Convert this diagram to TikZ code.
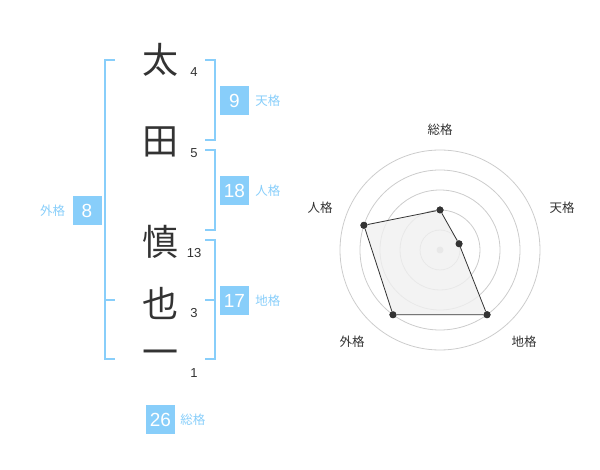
\documentclass[tikz,border=0pt]{standalone}
\usepackage{fontspec}
\setmainfont{Liberation Sans}
\newfontfamily\jp{Noto Sans CJK JP}
\usetikzlibrary{positioning,calc}
\definecolor{skyblue}{HTML}{88CEFA}
\definecolor{inkgray}{HTML}{333333}
\definecolor{ringgray}{HTML}{CCCCCC}
\definecolor{areagray}{HTML}{F0F0F0}
\tikzstyle{kanji} = [text=inkgray, font=\jp\fontsize{36}{36}\selectfont, inner sep=0pt]
\tikzstyle{strokes} = [text=inkgray, font=\fontsize{13}{13}\selectfont, inner sep=0pt]
\tikzstyle{score} = [rectangle, fill=skyblue, text=white, minimum width=29pt, minimum height=29pt, inner sep=0pt, font=\fontsize{19}{19}\selectfont]
\tikzstyle{kaku} = [text=skyblue, font=\jp\fontsize{12.5}{12.5}\selectfont, inner sep=0pt]
\tikzstyle{bracket} = [draw=skyblue, line width=2pt]
\tikzstyle{axislabel} = [text=inkgray, font=\jp\fontsize{12.5}{12.5}\selectfont, inner sep=0pt]
\tikzstyle{dot} = [circle, fill=inkgray, inner sep=0pt, minimum size=7pt]

\begin{document}
\begin{tikzpicture}[x=1pt, y=-1pt]
    \useasboundingbox (0,0) rectangle (600,470);

    % name column
    \node (ta) [kanji] at (160,60) {太};
    \node (den) [kanji] at (160,142) {田};
    \node (shin) [kanji] at (160,242) {慎};
    \node (nari) [kanji] at (160,303) {也};
    \node (ichi) [kanji] at (160,358) {一};

    \node (ta_n) [strokes] at (194,72) {4};
    \node (den_n) [strokes] at (194,153) {5};
    \node (shin_n) [strokes] at (194,253) {13};
    \node (nari_n) [strokes] at (194,313) {3};
    \node (ichi_n) [strokes] at (194,373) {1};

    % brackets
    \draw[bracket] (115,60) -- (105,60) -- (105,359) -- (115,359);
    \draw[bracket] (105,300) -- (115,300);
    \draw[bracket] (205,60) -- (215,60) -- (215,140) -- (205,140);
    \draw[bracket] (205,150) -- (215,150) -- (215,230) -- (205,230);
    \draw[bracket] (205,240) -- (215,240) -- (215,359) -- (205,359);
    \draw[bracket] (205,300) -- (215,300);

    % scores
    \node (ten) [score] at (234.5,100.5) {9};
    \node (ten_l) [kaku, right=6pt of ten] {天格};
    \node (jin) [score] at (234.5,190.5) {18};
    \node (jin_l) [kaku, right=6pt of jin] {人格};
    \node (chi) [score] at (234.5,300.5) {17};
    \node (chi_l) [kaku, right=6pt of chi] {地格};
    \node (gai) [score] at (87,210.5) {8};
    \node (gai_l) [kaku, left=7pt of gai] {外格};
    \node (sou) [score] at (160.5,419.5) {26};
    \node (sou_l) [kaku, right=5pt of sou] {総格};

    % radar chart
    \coordinate (center) at (440,250);
    \foreach \r in {20,40,60,80,100}
        \draw[ringgray, line width=0.8pt] (center) circle (\r pt);
    \fill[ringgray] (center) circle (3.5pt);

    \node (sou_p) [dot] at ($(center)+(-90:40)$) {};
    \node (ten_p) [dot] at ($(center)+(-18:20)$) {};
    \node (chi_p) [dot] at ($(center)+(54:80)$) {};
    \node (gai_p) [dot] at ($(center)+(126:80)$) {};
    \node (jin_p) [dot] at ($(center)+(198:80)$) {};

    \fill[areagray, fill opacity=0.8] (sou_p.center) -- (ten_p.center) -- (chi_p.center) -- (gai_p.center) -- (jin_p.center) -- cycle;
    \draw[inkgray, line width=0.8pt] (sou_p) -- (ten_p) -- (chi_p) -- (gai_p) -- (jin_p) -- (sou_p);
    \foreach \p in {sou_p,ten_p,chi_p,gai_p,jin_p}
        \fill[inkgray] (\p) circle (3.5pt);

    \node (sou_a) [axislabel] at (440,130) {総格};
    \node (ten_a) [axislabel] at (562,208) {天格};
    \node (chi_a) [axislabel] at (524,342) {地格};
    \node (gai_a) [axislabel] at (352,342) {外格};
    \node (jin_a) [axislabel] at (320,208) {人格};
  \end{tikzpicture}
\end{document}
